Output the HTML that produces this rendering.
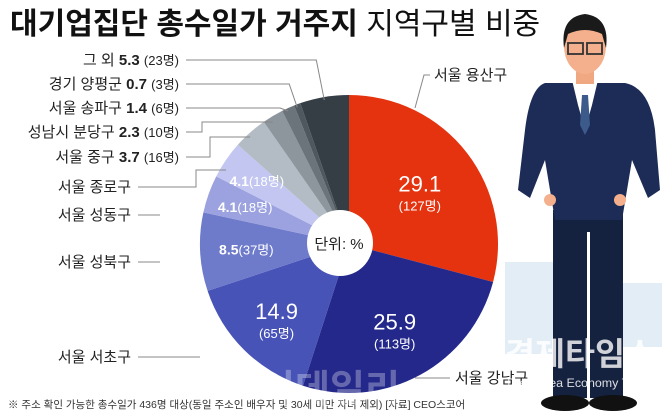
<!DOCTYPE html>
<html><head><meta charset="utf-8">
<style>
body{margin:0;background:#fff;}
#wrap{position:relative;width:670px;height:416px;overflow:hidden;background:#fff;font-family:"Liberation Sans","Noto Sans CJK KR",sans-serif;}
</style></head>
<body>
<div id="wrap">
<svg id="chart" width="670" height="416" xmlns="http://www.w3.org/2000/svg">
  <g fill="#e3edf5">
    <rect x="505" y="262" width="60" height="92"/>
    <rect x="618" y="283" width="44" height="64"/>
  </g>
  <g id="slices"></g>
  <circle cx="340" cy="243" r="33" fill="#fff"/>
  <text x="339" y="249" font-size="15" text-anchor="middle" fill="#222">단위: %</text>
  <g id="leaders" stroke="#888" stroke-width="1" fill="none"></g>
  <g id="labels"></g>
  <text x="10" y="34" font-size="30" font-weight="bold" fill="#111">대기업집단 총수일가 거주지 <tspan font-weight="normal">지역구별 비중</tspan></text>
  <text x="8" y="408" font-size="10.5" fill="#333">※ 주소 확인 가능한 총수일가 436명 대상(동일 주소인 배우자 및 30세 미만 자녀 제외)  [자료] CEO스코어</text>
  <g>
    <rect x="553" y="210" width="70" height="188" fill="#14213f"/>
    <rect x="587" y="232" width="3" height="166" fill="#fff"/>
    <ellipse cx="565" cy="403" rx="24" ry="8" fill="#111"/>
    <ellipse cx="613" cy="403" rx="24" ry="8" fill="#111"/>
    <path d="M545 83 L625 83 Q650 88 655 130 L660 190 L648 198 L632 160 L622 220 L555 220 L545 160 L530 198 L518 190 L525 130 Q530 88 545 83 Z" fill="#1d2c56"/>
    <path d="M572 80 L598 80 L592 105 L585 130 L578 105 Z" fill="#fff"/>
    <path d="M582 95 L588 95 L590 125 L585 135 L580 125 Z" fill="#3c5a8a"/>
    <rect x="576" y="62" width="18" height="22" fill="#f0a882"/>
    <ellipse cx="585" cy="46" rx="21" ry="28" fill="#f4b08c"/>
    <path d="M564 48 Q560 17 585 14 Q610 17 606 48 L602 34 Q585 26 568 34 Z" fill="#1a1a1a"/>
    <rect x="568" y="43" width="15" height="11" fill="none" stroke="#333" stroke-width="1.8"/>
    <rect x="587" y="43" width="15" height="11" fill="none" stroke="#333" stroke-width="1.8"/>
    <circle cx="550" cy="200" r="6" fill="#f4b08c"/>
    <circle cx="620" cy="200" r="6" fill="#f4b08c"/>
  </g>
  <text x="505" y="365" font-size="32" font-weight="bold" fill="#fff" fill-opacity="0.8" textLength="150" lengthAdjust="spacingAndGlyphs">경제타임스</text>
  <text x="505" y="387" font-size="12" fill="#fff" fill-opacity="0.85" textLength="150" lengthAdjust="spacingAndGlyphs">The Korea Economy Times</text>
  <text x="330" y="402" font-size="38" font-weight="bold" fill="#fff" fill-opacity="0.3" text-anchor="middle">이데일리</text>
</svg>
<script>
const categories=["서울 용산구","서울 강남구","서울 서초구","서울 성북구","서울 성동구","서울 종로구","서울 중구","성남시 분당구","서울 송파구","경기 양평군","그 외"];
const shares=[29.1,25.9,14.9,8.5,4.1,4.1,3.7,2.3,1.4,0.7,5.3];
const counts=[127,113,65,37,18,18,16,10,6,3,23];
const colors=["#e5320f","#24288a","#4753b6","#6e7aca","#9ca2df","#c2c6f0","#b3bcc4","#8d959d","#6b737b","#50585f","#353d45"];
const NS="http://www.w3.org/2000/svg";
const cx=349,cy=244,rx=149,ry=149,start=0;
const total=shares.reduce((a,b)=>a+b,0);
function pt(a,k){return [cx+Math.sin(a)*rx*k,cy-Math.cos(a)*ry*k];}
const gS=document.getElementById('slices'),gL=document.getElementById('labels'),gLd=document.getElementById('leaders');
let acc=0;const mids=[];
shares.forEach((v,i)=>{
  const a0=start+acc/total*2*Math.PI;acc+=v;const a1=start+acc/total*2*Math.PI;
  const p0=pt(a0,1),p1=pt(a1,1);const large=(a1-a0)>Math.PI?1:0;
  const p=document.createElementNS(NS,'path');
  p.setAttribute('d',`M${cx},${cy} L${p0[0]},${p0[1]} A${rx},${ry} 0 ${large} 1 ${p1[0]},${p1[1]} Z`);
  p.setAttribute('fill',colors[i]);
  
  
  gS.appendChild(p);mids.push((a0+a1)/2);
});
function txt(parent,x,y,s,size,fill,anchor,weight){const t=document.createElementNS(NS,'text');t.setAttribute('x',x);t.setAttribute('y',y);t.setAttribute('font-size',size);t.setAttribute('fill',fill);t.setAttribute('text-anchor',anchor||'start');if(weight)t.setAttribute('font-weight',weight);t.textContent=s;parent.appendChild(t);return t;}
const inK=[0.6,0.64,0.69,0.69,0.74,0.75];
for(let i=0;i<6;i++){
  const m=pt(mids[i],inK[i]);
  if(i<3){
    const t=txt(gL,m[0],m[1]+2,shares[i].toFixed(1),22,'#fff','middle');
    
    
    const c=txt(gL,m[0],m[1]+21,'('+counts[i]+'명)',13,'#fff','middle');
    
    
  }else{
    const t=document.createElementNS(NS,'text');
    t.setAttribute('x',m[0]);t.setAttribute('y',m[1]+5);t.setAttribute('text-anchor','middle');t.setAttribute('fill','#fff');t.setAttribute('font-size',13);
    t.innerHTML=`<tspan font-size="14" font-weight="bold">${shares[i].toFixed(1)}</tspan>(${counts[i]}명)`;
    
    
    gL.appendChild(t);
  }
}
const leftY={2:357,3:262,4:215};
for(const k in leftY){
  const i=+k;const y=leftY[i];
  const t=txt(gL,131,y+5,categories[i],15,'#222','end');
  
  
  const l=document.createElementNS(NS,'polyline');
  l.setAttribute('points',`138,${y} ${i===2?200:160},${y}`);
  
  
  gLd.appendChild(l);
}
const tj=txt(gL,131,192,categories[5],15,'#222','end');


const ej=pt(mids[5],1.0);
const lj=document.createElementNS(NS,'polyline');
lj.setAttribute('points',`138,187 196,187 196,170 ${ej[0]},170`);


gLd.appendChild(lj);
const rowY={10:60,9:84,8:108,7:132,6:157};
const elbow={7:[202,122],6:[210,137]};
for(const k in rowY){
  const i=+k;const y=rowY[k];
  const t=document.createElementNS(NS,'text');t.setAttribute('y',y+5);t.setAttribute('x',179);t.setAttribute('text-anchor','end');t.setAttribute('font-size',15);t.setAttribute('fill','#222');
  t.innerHTML=`${categories[i]}  <tspan font-weight="bold">${shares[i].toFixed(1)}</tspan> <tspan font-size="13">(${counts[i]}명)</tspan>`;
  
  
  gL.appendChild(t);
  const e=pt(mids[i],1.0);
  const l=document.createElementNS(NS,'polyline');
  if(elbow[i]){const b=elbow[i];l.setAttribute('points',`186,${y} ${b[0]},${y} ${b[0]},${b[1]} ${e[0]},${b[1]}`);}
  else l.setAttribute('points',`186,${y} ${e[0]-8},${y} ${e[0]},${e[1]+3}`);
  
  
  gLd.appendChild(l);
}
const r0=txt(gL,434,80,categories[0],15,'#222','start');


const l0=document.createElementNS(NS,'polyline');
l0.setAttribute('points',`430,75 424,75 415,108`);


gLd.appendChild(l0);
const r1=txt(gL,455,383,categories[1],15,'#222','start');


const l1=document.createElementNS(NS,'polyline');
l1.setAttribute('points',`450,378 415,378`);


gLd.appendChild(l1);
</script>
</div>
</body></html>
